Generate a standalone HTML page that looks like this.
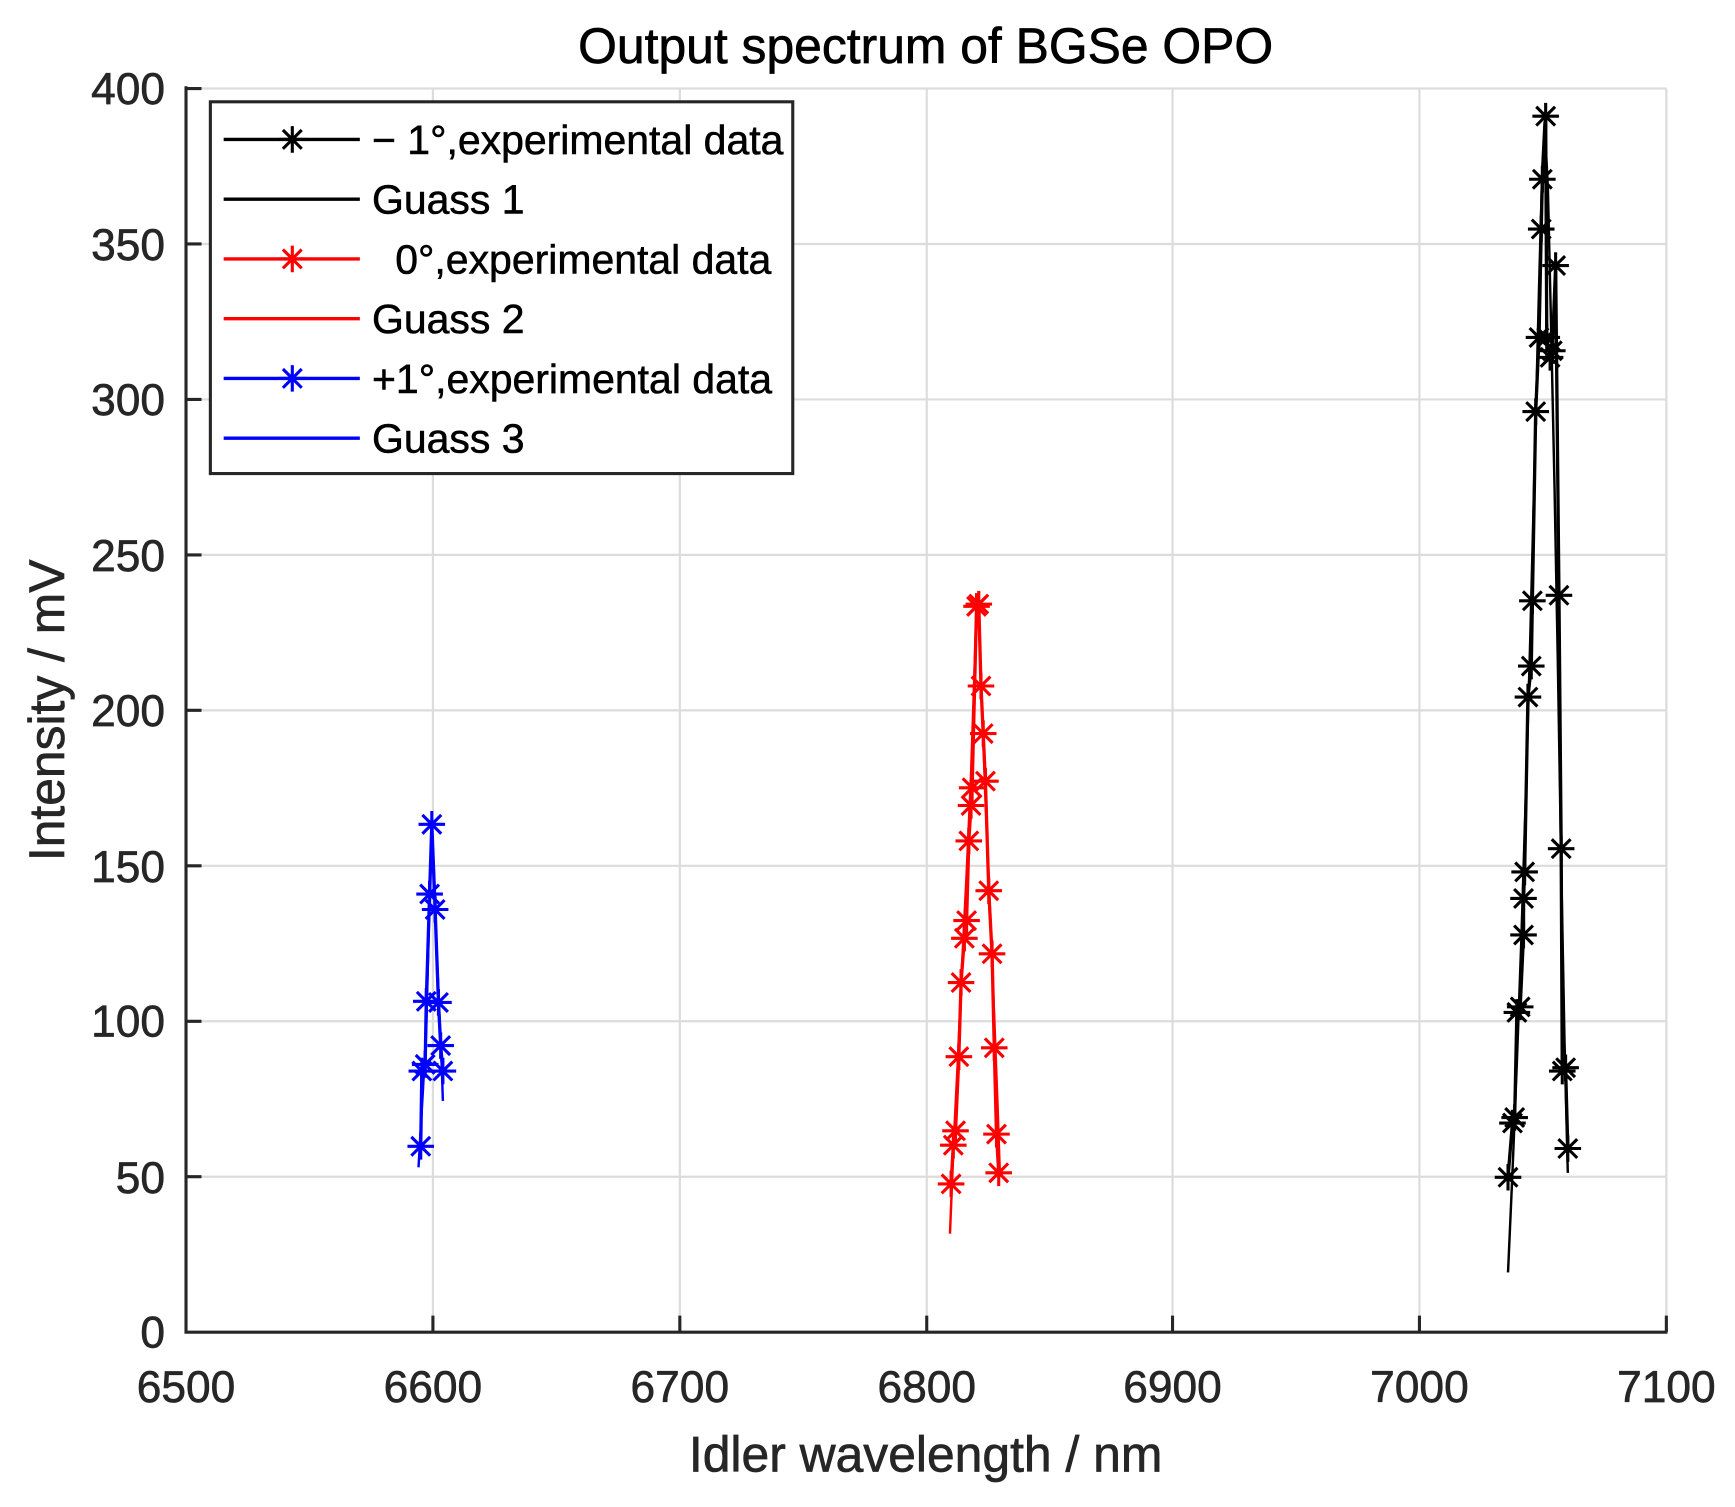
<!DOCTYPE html>
<html><head><meta charset="utf-8"><style>html,body{margin:0;padding:0;background:#fff}svg{display:block}</style></head>
<body>
<svg width="1735" height="1507" viewBox="0 0 1567 1362" preserveAspectRatio="none" xmlns="http://www.w3.org/2000/svg" font-family="Liberation Sans, Arial, sans-serif">
<defs>
<g id="ast"><path d="M0,-12V12M-12,0H12M-8.5,-8.5L8.5,8.5M-8.5,8.5L8.5,-8.5" stroke-width="2.8" fill="none"/></g>
</defs>
<rect width="1567" height="1362" fill="#fff"/>
<g stroke="#dcdcdc" stroke-width="2">
<line x1="391" y1="80" x2="391" y2="1204"/><line x1="614" y1="80" x2="614" y2="1204"/><line x1="837" y1="80" x2="837" y2="1204"/><line x1="1059" y1="80" x2="1059" y2="1204"/><line x1="1282" y1="80" x2="1282" y2="1204"/><line x1="1505" y1="80" x2="1505" y2="1204"/>
<line x1="168" y1="80" x2="1505" y2="80"/><line x1="168" y1="220.5" x2="1505" y2="220.5"/><line x1="168" y1="361" x2="1505" y2="361"/><line x1="168" y1="501.5" x2="1505" y2="501.5"/><line x1="168" y1="642" x2="1505" y2="642"/><line x1="168" y1="782.5" x2="1505" y2="782.5"/><line x1="168" y1="923" x2="1505" y2="923"/><line x1="168" y1="1063.5" x2="1505" y2="1063.5"/>
</g>
<g stroke="#262626" stroke-width="2.8" fill="none">
<path d="M168,78V1204H1506"/>
<path d="M391,1204v-15M614,1204v-15M837,1204v-15M1059,1204v-15M1282,1204v-15M1505,1204v-15"/>
<path d="M168,80h14M168,220.5h14M168,361h14M168,501.5h14M168,642h14M168,782.5h14M168,923h14M168,1063.5h14"/>
</g>
<g fill="#262626" font-size="40" text-anchor="middle" stroke="#262626" stroke-width="0.6">
<text x="168" y="1267">6500</text><text x="391" y="1267">6600</text><text x="614" y="1267">6700</text><text x="837" y="1267">6800</text><text x="1059" y="1267">6900</text><text x="1282" y="1267">7000</text><text x="1505" y="1267">7100</text>
</g>
<g fill="#262626" font-size="40" text-anchor="end" stroke="#262626" stroke-width="0.6">
<text x="149" y="1218">0</text><text x="149" y="1078">50</text><text x="149" y="937">100</text><text x="149" y="797">150</text><text x="149" y="656">200</text><text x="149" y="516">250</text><text x="149" y="375">300</text><text x="149" y="235">350</text><text x="149" y="94">400</text>
</g>
<text x="836" y="1330" font-size="45" text-anchor="middle" fill="#262626" stroke="#262626" stroke-width="0.6">Idler wavelength / nm</text>
<text transform="translate(58,642) rotate(-90)" font-size="45" text-anchor="middle" fill="#262626" stroke="#262626" stroke-width="0.6">Intensity / mV</text>
<text x="836" y="57" font-size="45" text-anchor="middle" fill="#000" stroke="#000" stroke-width="0.6">Output spectrum of BGSe OPO</text>

<g stroke="#0000ff" fill="none">
<polyline stroke-width="2.2" points="378,1055 380,1020 382,985 385,930 387,850 389,780 390,748 392,790 394,850 397,920 399,965 400,995"/>
<polyline stroke-width="3" points="380,1036 381,968 384,962 385,905 388,808 390,745 393,822 396,906 398,945 400,968"/>
<g>
<use href="#ast" x="380" y="1036"/><use href="#ast" x="381" y="968"/><use href="#ast" x="384" y="962"/><use href="#ast" x="385" y="905"/><use href="#ast" x="388" y="808"/><use href="#ast" x="390" y="745"/><use href="#ast" x="393" y="822"/><use href="#ast" x="396" y="906"/><use href="#ast" x="398" y="945"/><use href="#ast" x="400" y="968"/>
</g></g>
<g stroke="#ff0000" fill="none">
<polyline stroke-width="2.2" points="858,1115 861,1040 865,960 869,870 873,790 877,700 880,610 882,550 884,560 887,640 890,720 894,820 898,920 901,1000 903,1060"/>
<polyline stroke-width="3" points="859,1070 861,1035 863,1022 866,955 868,888 871,848 873,832 875,760 877,728 878,712 882,548 884,546 886,620 888,663 890,706 893,805 896,862 898,947 900,1025 902,1060"/>
<g>
<use href="#ast" x="859" y="1070"/><use href="#ast" x="861" y="1035"/><use href="#ast" x="863" y="1022"/><use href="#ast" x="866" y="955"/><use href="#ast" x="868" y="888"/><use href="#ast" x="871" y="848"/><use href="#ast" x="873" y="832"/><use href="#ast" x="875" y="760"/><use href="#ast" x="877" y="728"/><use href="#ast" x="878" y="712"/><use href="#ast" x="882" y="548"/><use href="#ast" x="884" y="546"/><use href="#ast" x="886" y="620"/><use href="#ast" x="888" y="663"/><use href="#ast" x="890" y="706"/><use href="#ast" x="893" y="805"/><use href="#ast" x="896" y="862"/><use href="#ast" x="898" y="947"/><use href="#ast" x="900" y="1025"/><use href="#ast" x="902" y="1060"/>
</g></g>
<g stroke="#000" fill="none">
<polyline stroke-width="2.2" points="1362,1150 1366,1060 1370,960 1374,850 1378,720 1382,580 1386,420 1390,260 1393,150 1395,110 1398,170 1401,300 1404,440 1407,600 1410,780 1413,940 1416,1060"/>
<polyline stroke-width="3" points="1362,1064 1366,1015 1368,1010 1370,915 1373,910 1376,845 1376,812 1377,788 1380,630 1383,602 1384,543 1387,372 1390,305 1392,207 1393,162 1396,105 1397,305 1400,323 1402,317 1405,240 1408,538 1410,767 1411,968 1414,965 1416,1038"/>
<g>
<use href="#ast" x="1362" y="1064"/><use href="#ast" x="1366" y="1015"/><use href="#ast" x="1368" y="1010"/><use href="#ast" x="1370" y="915"/><use href="#ast" x="1373" y="910"/><use href="#ast" x="1376" y="845"/><use href="#ast" x="1376" y="812"/><use href="#ast" x="1377" y="788"/><use href="#ast" x="1380" y="630"/><use href="#ast" x="1383" y="602"/><use href="#ast" x="1384" y="543"/><use href="#ast" x="1387" y="372"/><use href="#ast" x="1390" y="305"/><use href="#ast" x="1392" y="207"/><use href="#ast" x="1393" y="162"/><use href="#ast" x="1396" y="105"/><use href="#ast" x="1397" y="305"/><use href="#ast" x="1400" y="323"/><use href="#ast" x="1402" y="317"/><use href="#ast" x="1405" y="240"/><use href="#ast" x="1408" y="538"/><use href="#ast" x="1410" y="767"/><use href="#ast" x="1411" y="968"/><use href="#ast" x="1414" y="965"/><use href="#ast" x="1416" y="1038"/>
</g></g>

<rect x="190" y="92" width="526" height="336" fill="#fff" stroke="#262626" stroke-width="2.8"/>
<g stroke-width="3">
<line x1="202" y1="126" x2="325" y2="126" stroke="#000"/><use href="#ast" x="264" y="126" stroke="#000"/>
<line x1="202" y1="180" x2="325" y2="180" stroke="#000"/>
<line x1="202" y1="234" x2="325" y2="234" stroke="#f00"/><use href="#ast" x="264" y="234" stroke="#f00"/>
<line x1="202" y1="288" x2="325" y2="288" stroke="#f00"/>
<line x1="202" y1="342" x2="325" y2="342" stroke="#00f"/><use href="#ast" x="264" y="342" stroke="#00f"/>
<line x1="202" y1="396" x2="325" y2="396" stroke="#00f"/>
</g>
<g font-size="37" fill="#000" stroke="#000" stroke-width="0.5">
<text x="336" y="139">− 1°,experimental data</text>
<text x="336" y="193">Guass 1</text>
<text x="357" y="247">0°,experimental data</text>
<text x="336" y="301">Guass 2</text>
<text x="336" y="355">+1°,experimental data</text>
<text x="336" y="409">Guass 3</text>
</g>
</svg>
</body></html>
